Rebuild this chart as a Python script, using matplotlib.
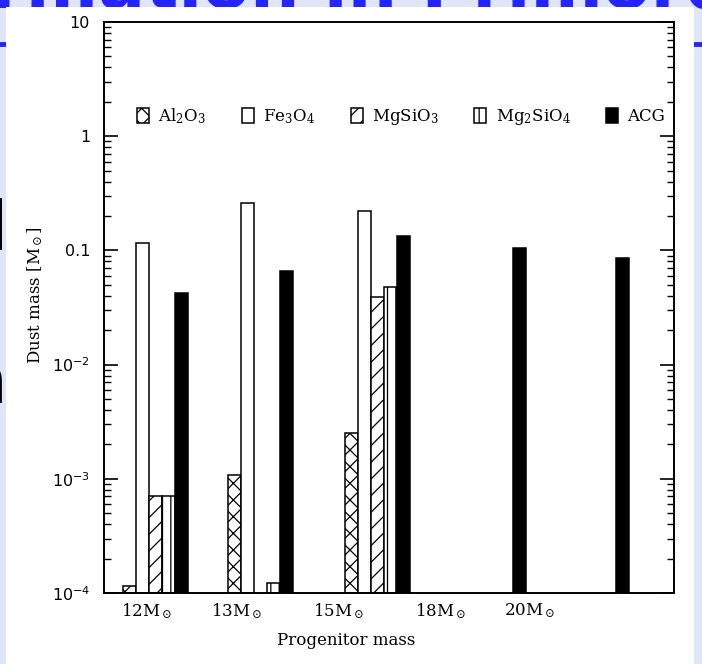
import matplotlib
matplotlib.use("Agg")
import matplotlib.pyplot as plt
from matplotlib.patches import Patch, Rectangle
from matplotlib.lines import Line2D

plt.rcParams["mathtext.fontset"] = "dejavuserif"
plt.rcParams["hatch.linewidth"] = 0.9

# progenitor masses (group positions on an arbitrary 0-10 axis)
mass_labels = ["12M$_\\odot$", "13M$_\\odot$", "15M$_\\odot$", "18M$_\\odot$", "20M$_\\odot$"]
group_x = [0.91, 2.75, 4.79, 6.83, 8.64]
label_x = [0.75, 2.33, 4.12, 5.91, 7.46]

# dust mass per grain species [Msun], None = not formed
species = ["Al$_2$O$_3$", "Fe$_3$O$_4$", "MgSiO$_3$", "Mg$_2$SiO$_4$", "ACG"]
al2o3 = [1.15e-4, 1.08e-3, 2.5e-3, None, None]
fe3o4 = [0.115, 0.26, 0.22, None, None]
mgsio3 = [7.0e-4, None, 0.039, None, None]
mg2sio4 = [7.0e-4, 1.22e-4, 0.048, None, None]
acg = [0.042, 0.066, 0.134, 0.105, 0.085]

ytick_vals = [1e-4, 1e-3, 1e-2, 0.1, 1, 10]
ytick_labels = ["$\\mathsf{10^{-4}}$", "$\\mathsf{10^{-3}}$", "$\\mathsf{10^{-2}}$", "0.1", "1", "10"]

series = [al2o3, fe3o4, mgsio3, mg2sio4, acg]
fills = ["white", "white", "white", "white", "black"]
hatches = ["xx", "", "//", "||", ""]

W, H = 702, 664
fig = plt.figure(figsize=(W / 100, H / 100), dpi=100, facecolor="#E1E5FA")

# slide behind the plot panel
blue = "#2424FF"
fig.text(0.5, 1 - 8 / H, "Dust Formation in Primordial SNe", fontsize=50, color=blue,
         ha="center", va="baseline", fontweight="bold", zorder=0)
fig.add_artist(Line2D([0, 1], [1 - 44 / H, 1 - 44 / H], color=blue, lw=3.5, zorder=0))
fig.text(8 / W, 1 - 250 / H, "model", fontsize=48, color="black", ha="right", va="baseline", zorder=0)
fig.text(8 / W, 1 - 403 / H, "formation", fontsize=48, color="black", ha="right", va="baseline", zorder=0)
fig.add_artist(Rectangle((6 / W, 0), 688 / W, (H - 7) / H, transform=fig.transFigure,
                         facecolor="white", edgecolor="none", zorder=1))

ax = fig.add_axes([104 / W, (H - 593) / H, 570 / W, 571 / H])
ax.set_zorder(3)

w = 0.228
for k, (vals, fc, h) in enumerate(zip(series, fills, hatches)):
    xs = [gx + (k - 2) * w for gx, v in zip(group_x, vals) if v is not None]
    hs = [v - 1e-4 for v in vals if v is not None]
    ax.bar(xs, hs, width=w, bottom=1e-4, color=fc, hatch=h, edgecolor="black", linewidth=1.1)

ax.set_yscale("log")
ax.set_ylim(1e-4, 10)
ax.set_xlim(0, 10)

ax.set_yticks(ytick_vals)
ax.set_yticklabels(ytick_labels, fontsize=11.5, family="DejaVu Sans")
ax.set_xticks(label_x)
ax.set_xticklabels(mass_labels, fontsize=12, family="DejaVu Serif")
ax.tick_params(axis="x", length=0, pad=6)
ax.tick_params(axis="y", which="major", direction="in", length=10, width=1.2, right=True, pad=10)
ax.tick_params(axis="y", which="minor", direction="in", length=5, width=1.0, right=True)
for s in ax.spines.values():
    s.set_linewidth(1.4)

ax.set_xlabel("Progenitor mass", fontsize=12, family="DejaVu Serif")
ax.xaxis.set_label_coords(0.425, -0.068)
ax.set_ylabel("Dust mass [M$_\\odot$]", fontsize=12, family="DejaVu Serif")
ax.yaxis.set_label_coords(-0.104, 0.522)

handles = [Patch(facecolor=fc, edgecolor="black", hatch=h, linewidth=1.1)
           for fc, h in zip(fills, hatches)]
ax.legend(handles, species, ncol=5, loc="center left", bbox_to_anchor=(0.058, 0.834),
          frameon=False, borderpad=0, borderaxespad=0, handlelength=0.72, handleheight=1.0,
          handletextpad=0.55, columnspacing=2.15, prop={"family": "DejaVu Serif", "size": 12})

fig.savefig("out.png", dpi=100, facecolor=fig.get_facecolor())
